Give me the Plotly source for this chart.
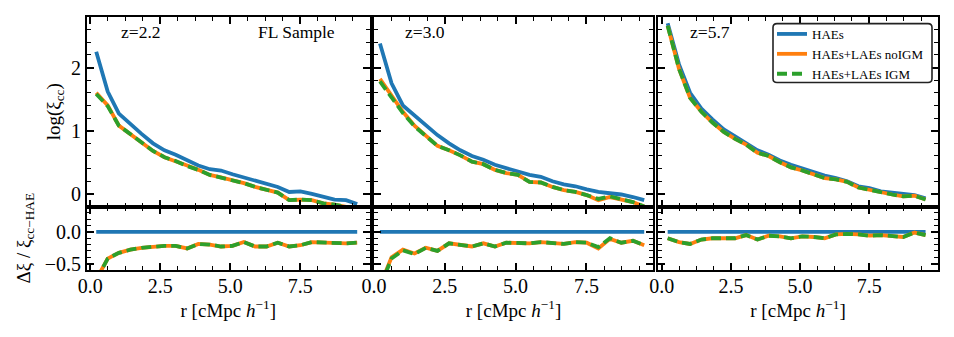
import plotly.graph_objects as go

# separation bins (cMpc/h)
r = [0.21, 0.62, 1.02, 1.43, 1.83, 2.24, 2.65, 3.05, 3.46, 3.86, 4.27, 4.67,
     5.08, 5.49, 5.89, 6.30, 6.70, 7.11, 7.51, 7.92, 8.33, 8.73, 9.14, 9.54]

redshifts = ["z=2.2", "z=3.0", "z=5.7"]

# log(xi_cc) per redshift
hae_22 = [2.25, 1.62, 1.27, 1.10, 0.95, 0.80, 0.69, 0.62, 0.53, 0.45, 0.39, 0.37,
          0.31, 0.26, 0.21, 0.16, 0.11, 0.03, 0.04, 0.00, -0.05, -0.09, -0.10, -0.16]
noigm_22 = [1.60, 1.40, 1.08, 0.95, 0.82, 0.68, 0.58, 0.52, 0.45, 0.38, 0.30, 0.26,
            0.22, 0.17, 0.11, 0.06, 0.02, -0.10, -0.09, -0.10, -0.15, -0.17, -0.20, -0.24]
igm_22 = [1.58, 1.39, 1.08, 0.95, 0.82, 0.68, 0.58, 0.52, 0.44, 0.38, 0.30, 0.26,
          0.22, 0.17, 0.11, 0.06, 0.02, -0.10, -0.09, -0.10, -0.15, -0.17, -0.20, -0.24]

hae_30 = [2.38, 1.75, 1.40, 1.24, 1.08, 0.93, 0.80, 0.69, 0.60, 0.54, 0.46, 0.41,
          0.36, 0.30, 0.27, 0.20, 0.15, 0.12, 0.07, 0.03, 0.01, -0.01, -0.05, -0.10]
noigm_30 = [1.82, 1.55, 1.30, 1.08, 0.92, 0.76, 0.69, 0.61, 0.51, 0.47, 0.38, 0.33,
            0.30, 0.19, 0.18, 0.11, 0.06, 0.03, -0.02, -0.10, -0.05, -0.09, -0.13, -0.20]
igm_30 = [1.78, 1.53, 1.28, 1.07, 0.92, 0.76, 0.69, 0.61, 0.51, 0.47, 0.38, 0.33,
          0.30, 0.19, 0.18, 0.11, 0.06, 0.03, -0.02, -0.08, -0.04, -0.09, -0.13, -0.20]

hae_57 = [2.70, 2.05, 1.60, 1.35, 1.18, 1.02, 0.91, 0.80, 0.69, 0.62, 0.53, 0.46,
          0.40, 0.34, 0.29, 0.25, 0.20, 0.12, 0.09, 0.04, 0.02, 0.00, -0.02, -0.07]
noigm_57 = [2.66, 1.98, 1.52, 1.30, 1.13, 0.98, 0.87, 0.78, 0.65, 0.60, 0.50, 0.42,
            0.37, 0.31, 0.25, 0.23, 0.19, 0.10, 0.06, 0.02, -0.01, -0.04, -0.03, -0.09]
igm_57 = [2.66, 1.98, 1.52, 1.30, 1.13, 0.98, 0.87, 0.78, 0.65, 0.60, 0.50, 0.42,
          0.37, 0.31, 0.25, 0.23, 0.19, 0.10, 0.06, 0.02, -0.01, -0.04, -0.03, -0.09]

# relative difference to the HAE-only correlation
d_hae = [0.0, 0.0, 0.0, 0.0, 0.0, 0.0, 0.0, 0.0, 0.0, 0.0, 0.0, 0.0,
         0.0, 0.0, 0.0, 0.0, 0.0, 0.0, 0.0, 0.0, 0.0, 0.0, 0.0, 0.0]
d_noigm_22 = [-0.75, -0.42, -0.33, -0.28, -0.25, -0.23, -0.22, -0.22, -0.26, -0.19, -0.20, -0.23,
              -0.22, -0.16, -0.23, -0.23, -0.17, -0.23, -0.21, -0.16, -0.17, -0.18, -0.18, -0.17]
d_igm_22 = [-0.76, -0.42, -0.33, -0.28, -0.25, -0.23, -0.22, -0.22, -0.26, -0.19, -0.20, -0.23,
            -0.22, -0.16, -0.23, -0.23, -0.17, -0.23, -0.21, -0.16, -0.17, -0.18, -0.18, -0.17]
d_noigm_30 = [-0.85, -0.40, -0.28, -0.34, -0.25, -0.30, -0.18, -0.20, -0.23, -0.18, -0.23, -0.17,
              -0.18, -0.18, -0.16, -0.18, -0.19, -0.16, -0.17, -0.26, -0.11, -0.17, -0.14, -0.21]
d_igm_30 = [-0.87, -0.42, -0.29, -0.35, -0.25, -0.30, -0.18, -0.20, -0.23, -0.18, -0.23, -0.17,
            -0.18, -0.18, -0.16, -0.18, -0.19, -0.16, -0.17, -0.24, -0.10, -0.17, -0.14, -0.21]
d_noigm_57 = [-0.10, -0.16, -0.19, -0.12, -0.10, -0.10, -0.10, -0.05, -0.12, -0.06, -0.07, -0.10,
              -0.07, -0.08, -0.10, -0.04, -0.03, -0.04, -0.06, -0.05, -0.07, -0.08, -0.01, -0.05]
d_igm_57 = [-0.10, -0.16, -0.19, -0.12, -0.10, -0.10, -0.10, -0.05, -0.12, -0.06, -0.07, -0.10,
            -0.07, -0.08, -0.10, -0.04, -0.03, -0.04, -0.06, -0.05, -0.07, -0.08, -0.01, -0.05]

top_sets = [(hae_22, noigm_22, igm_22), (hae_30, noigm_30, igm_30), (hae_57, noigm_57, igm_57)]
bot_sets = [(d_hae, d_noigm_22, d_igm_22), (d_hae, d_noigm_30, d_igm_30), (d_hae, d_noigm_57, d_igm_57)]
names = ["HAEs", "HAEs+LAEs noIGM", "HAEs+LAEs IGM"]
colors = ["#1f77b4", "#ff7f0e", "#2ca02c"]
dashes = ["solid", "solid", "10px,5px"]

FONT = "Liberation Serif"
# the page body adds an 8px margin, so the figure is drawn 8px smaller and
# positions below are given in window pixels, then shifted
OFF = 8
W, H = 954 - OFF, 337 - OFF
ml, mr, mt, mb = 87 - OFF, 16, 15 - OFF, 67
pw, ph = W - ml - mr, H - mt - mb


def px_x(X):
    return (X - OFF - ml) / pw


def px_y(Y):
    return (H - mb - (Y - OFF)) / ph


# panel pixel extents (window coordinates)
px_panels = [(87, 369.5), (374, 653), (658, 938)]
y_split = 206
x_ranges = [[-0.12, 9.98], [0.0, 9.85], [-0.14, 9.99]]

fig = go.Figure()

for i in range(3):
    xt = "x" if i == 0 else f"x{i + 1}"
    yt = "y" if i == 0 else f"y{i + 1}"
    xb, yb = f"x{i + 4}", f"y{i + 4}"
    for k in range(3):
        fig.add_trace(go.Scatter(
            x=r, y=top_sets[i][k], xaxis=xt, yaxis=yt, mode="lines",
            line=dict(color=colors[k], width=3.8, dash=dashes[k]),
            name=names[k], legendgroup=names[k], showlegend=(i == 2)))
    for k in range(3):
        fig.add_trace(go.Scatter(
            x=r, y=bot_sets[i][k], xaxis=xb, yaxis=yb, mode="lines",
            line=dict(color=colors[k], width=3.8, dash=dashes[k]),
            name=names[k], legendgroup=names[k], showlegend=False))

axis_common = dict(
    ticks="inside", ticklen=7, tickwidth=1.5, tickcolor="black",
    mirror="allticks", showline=True, linewidth=2, linecolor="black",
    showgrid=False, zeroline=False,
    tickfont=dict(family=FONT, size=20, color="black"),
)
title_font = dict(family=FONT, size=19, color="black")

layout = {}
for i in range(3):
    x0 = px_x(px_panels[i][0])
    x1 = px_x(px_panels[i][1])
    ysplit = px_y(y_split)
    xk_top = "xaxis" if i == 0 else f"xaxis{i + 1}"
    yk_top = "yaxis" if i == 0 else f"yaxis{i + 1}"
    xk_bot, yk_bot = f"xaxis{i + 4}", f"yaxis{i + 4}"
    yname_top = "y" if i == 0 else f"y{i + 1}"
    xname_top = "x" if i == 0 else f"x{i + 1}"

    xcommon = dict(axis_common, range=x_ranges[i], tick0=0, dtick=2.5, tickformat=".1f",
                   minor=dict(ticks="inside", ticklen=4, tickwidth=1.2, tickcolor="black",
                              tick0=0, dtick=0.625, showgrid=False))
    layout[xk_top] = dict(xcommon, domain=[x0, x1], anchor=yname_top, showticklabels=False)
    layout[xk_bot] = dict(xcommon, domain=[x0, x1], anchor=f"y{i + 4}", ticklabelstandoff=-3,
                          title=dict(text="r [cMpc <i>h</i><sup>−1</sup>]",
                                     font=title_font, standoff=4))

    layout[yk_top] = dict(axis_common, domain=[ysplit, 1], anchor=xname_top, range=[-0.2, 2.8],
                          tick0=0, dtick=1, showticklabels=(i == 0),
                          minor=dict(ticks="inside", ticklen=4, tickwidth=1.2, tickcolor="black",
                                     tick0=0, dtick=0.2, showgrid=False))
    layout[yk_bot] = dict(axis_common, domain=[0, ysplit], anchor=f"x{i + 4}", range=[-0.6, 0.4],
                          tick0=0, dtick=0.5, tickformat=".1f", showticklabels=(i == 0),
                          minor=dict(ticks="inside", ticklen=4, tickwidth=1.2, tickcolor="black",
                                     tick0=0, dtick=0.1, showgrid=False))
    if i == 0:
        layout[yk_top]["title"] = dict(text="log(ξ<sub>cc</sub>)", font=title_font, standoff=5)
        layout[yk_bot]["title"] = dict(text="Δξ / ξ<sub>cc−HAE</sub>", font=title_font, standoff=9)

fig.update_layout(**layout)

# panel labels
ann_font = dict(family=FONT, size=17.5, color="black")
ann_x = [0.113, 0.104, 0.106]
for i in range(3):
    xd = "x domain" if i == 0 else f"x{i + 1} domain"
    yd = "y domain" if i == 0 else f"y{i + 1} domain"
    fig.add_annotation(text=redshifts[i], xref=xd, yref=yd, x=ann_x[i], y=0.92,
                       xanchor="left", yanchor="middle", showarrow=False, font=ann_font)
fig.add_annotation(text="FL Sample", xref="x domain", yref="y domain", x=0.885, y=0.92,
                   xanchor="right", yanchor="middle", showarrow=False, font=ann_font)

# rounded legend frame
bx0, bx1 = px_x(773), px_x(932)
by1, by0 = px_y(21.7), px_y(81)
rx, ry = 4 / pw, 4 / ph
path = (f"M {bx0 + rx},{by1} L {bx1 - rx},{by1} Q {bx1},{by1} {bx1},{by1 - ry} "
        f"L {bx1},{by0 + ry} Q {bx1},{by0} {bx1 - rx},{by0} "
        f"L {bx0 + rx},{by0} Q {bx0},{by0} {bx0},{by0 + ry} "
        f"L {bx0},{by1 - ry} Q {bx0},{by1} {bx0 + rx},{by1} Z")
fig.add_shape(type="path", path=path, xref="paper", yref="paper",
              line=dict(color="#222222", width=1.6), fillcolor="white", layer="above")

fig.update_layout(
    width=W, height=H,
    margin=dict(l=ml, r=mr, t=mt, b=mb),
    paper_bgcolor="white", plot_bgcolor="white",
    font=dict(family=FONT, color="black"),
    legend=dict(x=px_x(772), y=px_y(17), xanchor="left", yanchor="top",
                bgcolor="rgba(0,0,0,0)", borderwidth=0,
                font=dict(family=FONT, size=13, color="black"),
                tracegroupgap=0, itemwidth=30),
)

fig.write_html("out.html")
